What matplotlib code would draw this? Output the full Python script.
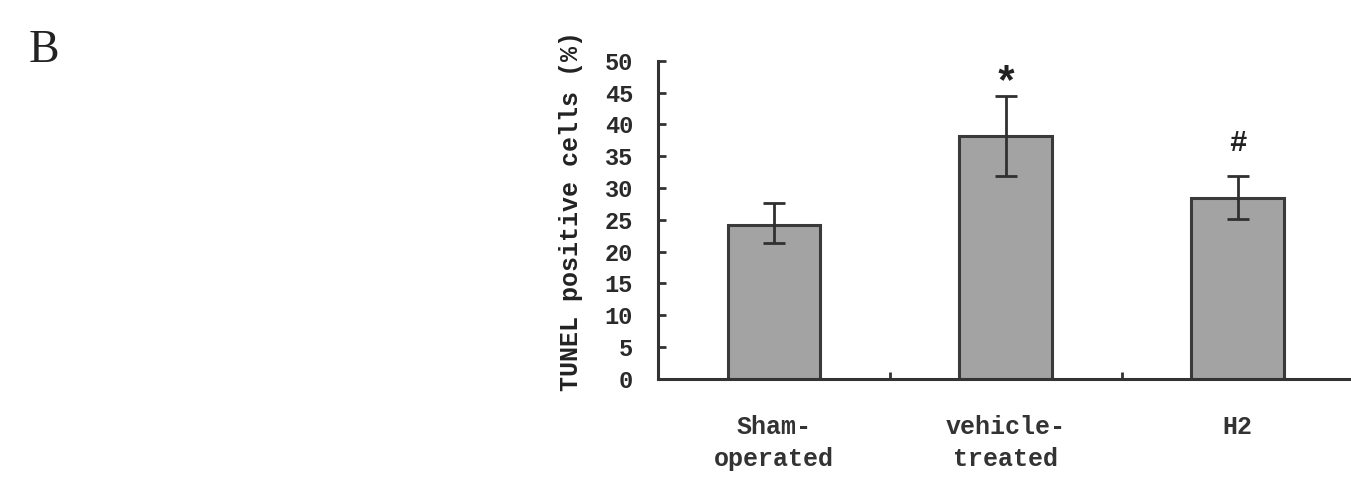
import numpy as np
import matplotlib
matplotlib.use('Agg')
import matplotlib.pyplot as plt

groups = ['Sham-\noperated', 'vehicle-\ntreated', 'H2']
tunel_pct = [24.2, 38.2, 28.5]
err_up = [3.5, 6.3, 3.4]
err_down = [2.8, 6.3, 3.3]
marks = ['', '*', '#']
mark_y = [0, 46.3, 37.1]
yticks = list(range(0, 51, 5))

fig = plt.figure(figsize=(13.51, 4.79), dpi=100)
ax = fig.add_axes([0.487, 0.209, 0.515, 0.664])

x = np.arange(len(groups))
ax.bar(x, tunel_pct, width=0.4, color='#a3a3a3', edgecolor='#3a3a3a', linewidth=2.2, zorder=2)
ax.errorbar(x, tunel_pct, yerr=[err_down, err_up], fmt='none', ecolor='#303030',
            elinewidth=2, capsize=8, capthick=2, zorder=3)
for i in range(len(groups)):
    if marks[i]:
        ax.text(x[i], mark_y[i], marks[i], ha='center', va='center',
                fontsize=30 if marks[i] == '*' else 21, fontweight='bold',
                family='Liberation Mono', color='#222222')

ax.set_xlim(-0.5, 2.5)
ax.set_ylim(0, 50)
ax.set_yticks(yticks)
ax.set_yticklabels([str(t) for t in yticks], family='Liberation Mono', fontweight='bold',
                   fontsize=17, color='#2a2a2a')
ax.set_xticks([0.5, 1.5])
ax.set_xticklabels([])
ax.tick_params(axis='y', direction='in', length=6, width=2, color='#333333', pad=18)
ax.tick_params(axis='x', direction='in', length=5, width=2, color='#333333')
for i in range(len(groups)):
    ax.text(x[i], -5.6, groups[i], ha='center', va='top', family='Liberation Mono',
            fontsize=18, fontweight='bold', color='#333333', linespacing=1.45)

for s in ['top', 'right']:
    ax.spines[s].set_visible(False)
for s in ['left', 'bottom']:
    ax.spines[s].set_linewidth(2.2)
    ax.spines[s].set_color('#333333')

fig.text(0.423, 0.56, 'TUNEL positive cells (%)', family='Liberation Mono', fontsize=18,
         fontweight='bold', color='#222222', rotation=90, ha='center', va='center')
fig.text(0.021, 0.895, 'B', family='Liberation Serif', fontsize=33, color='#222222',
         va='center', ha='left')

fig.savefig('out.png', dpi=100)
